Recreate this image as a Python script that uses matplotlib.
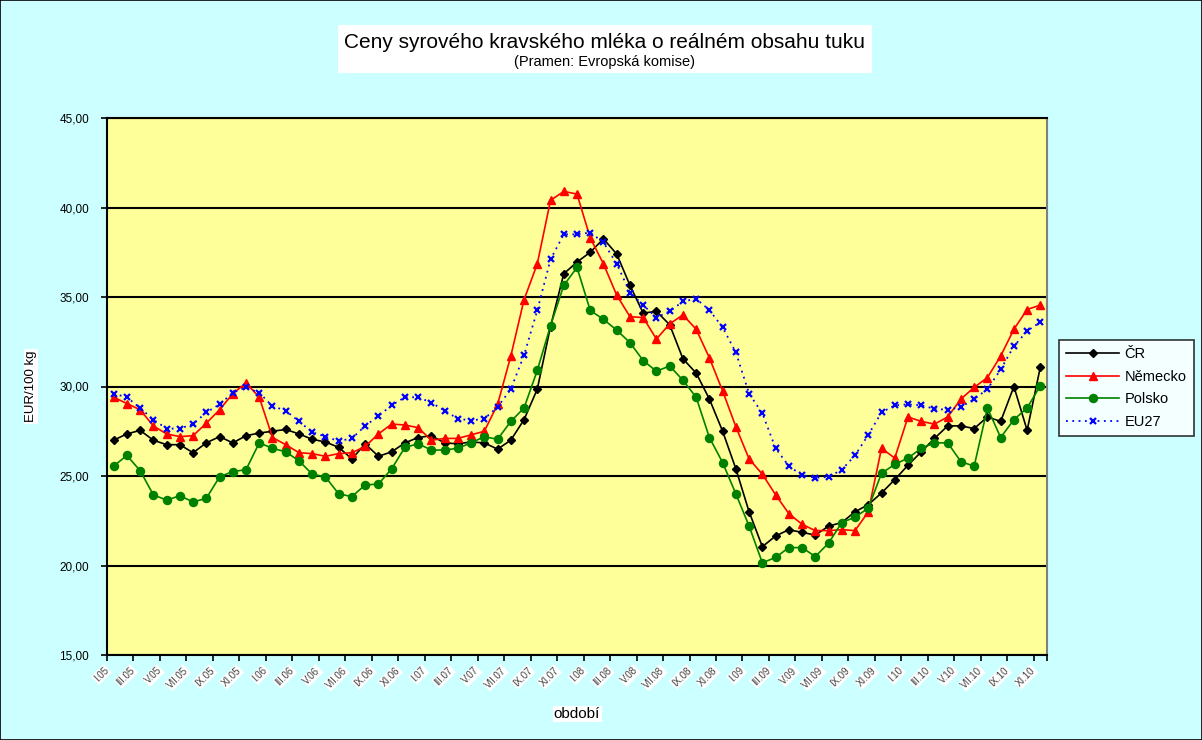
import matplotlib
matplotlib.use('Agg')
import matplotlib.pyplot as plt
from matplotlib.patches import Rectangle
import numpy as np

plt.rcParams['font.family'] = ['Liberation Sans', 'DejaVu Sans']

# ---- data (EUR/100 kg), monthly I.05 .. XI.10 ----
cr = [27.0, 27.35, 27.55, 27.0, 26.75, 26.75, 26.3, 26.85, 27.2, 26.85,
      27.25, 27.4, 27.5, 27.6, 27.35, 27.05, 26.9, 26.6, 25.95, 26.8,
      26.1, 26.35, 26.85, 27.15, 27.25, 26.85, 26.8, 26.9, 26.85, 26.5,
      27.0, 28.15, 29.85, 33.35, 36.3, 36.95, 37.5, 38.25, 37.4, 35.65,
      34.1, 34.2, 33.45, 31.55, 30.75, 29.3, 27.5, 25.4, 23.0, 21.05,
      21.65, 22.0, 21.85, 21.7, 22.2, 22.4, 23.0, 23.4, 24.05, 24.8,
      25.6, 26.35, 27.1, 27.8, 27.8, 27.65, 28.3, 28.05, 30.0, 27.55,
      31.1]
nemecko = [29.4, 29.05, 28.7, 27.8, 27.35, 27.2, 27.25, 27.95, 28.7, 29.6,
           30.2, 29.4, 27.15, 26.75, 26.3, 26.25, 26.1, 26.25, 26.3, 26.65,
           27.35, 27.9, 27.85, 27.7, 27.0, 27.1, 27.1, 27.3, 27.5, 29.0,
           31.7, 34.85, 36.85, 40.4, 40.9, 40.75, 38.3, 36.85, 35.1, 33.9,
           33.85, 32.65, 33.5, 34.0, 33.2, 31.6, 29.75, 27.75, 25.95, 25.1,
           23.95, 22.9, 22.3, 21.95, 21.95, 22.0, 21.95, 23.0, 26.55, 26.0,
           28.3, 28.05, 27.9, 28.3, 29.3, 29.95, 30.5, 31.7, 33.2, 34.3,
           34.55]
polsko = [25.55, 26.15, 25.3, 23.95, 23.65, 23.9, 23.55, 23.75, 24.95, 25.25,
          25.35, 26.85, 26.55, 26.35, 25.85, 25.1, 24.95, 24.0, 23.85, 24.5,
          24.55, 25.4, 26.6, 26.8, 26.45, 26.45, 26.55, 26.85, 27.2, 27.05,
          28.05, 28.8, 30.9, 33.4, 35.65, 36.65, 34.25, 33.75, 33.15, 32.45,
          31.45, 30.85, 31.15, 30.35, 29.4, 27.15, 25.75, 24.0, 22.2, 20.15,
          20.45, 21.0, 21.0, 20.5, 21.25, 22.4, 22.7, 23.2, 25.15, 25.65,
          26.0, 26.55, 26.85, 26.85, 25.8, 25.55, 28.8, 27.15, 28.15, 28.8,
          30.05]
eu27 = [29.6, 29.4, 28.8, 28.15, 27.65, 27.65, 27.9, 28.55, 29.0, 29.65,
        29.95, 29.65, 28.9, 28.65, 28.05, 27.45, 27.2, 26.95, 27.1, 27.8,
        28.35, 28.95, 29.4, 29.4, 29.1, 28.65, 28.2, 28.1, 28.2, 28.85,
        29.85, 31.75, 34.25, 37.1, 38.5, 38.5, 38.6, 38.05, 36.85, 35.25,
        34.55, 33.85, 34.2, 34.75, 34.9, 34.27, 33.3, 31.9, 29.6, 28.5,
        26.55, 25.55, 25.05, 24.9, 24.95, 25.35, 26.15, 27.3, 28.55, 28.95,
        29.0, 28.95, 28.75, 28.7, 28.85, 29.3, 29.85, 30.95, 32.25, 33.1,
        33.6]

tick_labels = ['I.05', 'III.05', 'V.05', 'VII.05', 'IX.05', 'XI.05',
               'I.06', 'III.06', 'V.06', 'VII.06', 'IX.06', 'XI.06',
               'I.07', 'III.07', 'V.07', 'VII.07', 'IX.07', 'XI.07',
               'I.08', 'III.08', 'V.08', 'VII.08', 'IX.08', 'XI.08',
               'I.09', 'III.09', 'V.09', 'VII.09', 'IX.09', 'XI.09',
               'I.10', 'III.10', 'V.10', 'VII.10', 'IX.10', 'XI.10']

series_names = ['ČR', 'Německo', 'Polsko', 'EU27']

# ---- figure ----
W, H = 1202, 740
fig = plt.figure(figsize=(W / 100, H / 100), dpi=100)
fig.patch.set_facecolor('#CCFFFF')
fig.patches.append(Rectangle((0, 0), 1, 1, transform=fig.transFigure,
                             fill=False, edgecolor='black', linewidth=1.2))

ax = fig.add_axes([107 / W, 1 - 655 / H, (1047 - 107) / W, (655 - 118) / H])
ax.set_facecolor('#FFFF99')

n = len(cr)
x = np.arange(n)
ax.plot(x, cr, color='black', lw=1.2, marker='D', ms=4.5, label=series_names[0], zorder=3)
ax.plot(x, nemecko, color='#FF0000', lw=1.2, marker='^', ms=6.2, label=series_names[1], zorder=3)
ax.plot(x, polsko, color='#008000', lw=1.2, marker='o', ms=5.8, label=series_names[2], zorder=3)
ax.plot(x, eu27, color='#0000FF', lw=1.3, ls=(0, (1, 2.5)), marker='x', ms=5, mew=1.6,
        label=series_names[3], zorder=3)

ax.set_xlim(-0.5, n - 0.5)
ax.set_ylim(15, 45)
yt = np.arange(15, 46, 5)
ax.set_yticks(yt)
ax.set_yticklabels([f'{v:.2f}'.replace('.', ',') for v in yt], fontsize=8.5)
ax.yaxis.grid(True, color='black', linewidth=1.5)
ax.set_axisbelow(True)

xt = np.arange(-0.5, n - 0.5, 2)
ax.set_xticks(xt)
ax.set_xticks([n - 0.5], minor=True)
ax.set_xticklabels(tick_labels, rotation=45, ha='right', va='center',
                   rotation_mode='anchor', fontsize=7, color='#444444')
for lab in ax.get_xticklabels():
    lab.set_bbox(dict(facecolor='white', edgecolor='none', pad=0.6))
ax.tick_params(axis='x', which='both', direction='out', length=4, width=1.2, pad=6)
ax.tick_params(axis='y', direction='out', length=4, width=1.2, pad=9)

for s in ['left', 'bottom', 'top']:
    ax.spines[s].set_color('black')
    ax.spines[s].set_linewidth(1.5)
ax.spines['right'].set_color('#808080')
ax.spines['right'].set_linewidth(1.5)

ax.set_xlabel('období', fontsize=11, labelpad=12,
              bbox=dict(facecolor='white', edgecolor='none', pad=1))
ax.set_ylabel('EUR/100 kg', fontsize=9.5, labelpad=16,
              bbox=dict(facecolor='white', edgecolor='none', pad=1))

# title box
fig.patches.append(Rectangle((338 / W, 1 - 73 / H), (872 - 338) / W, (73 - 25) / H,
                             transform=fig.transFigure, facecolor='white',
                             edgecolor='none', zorder=1))
fig.text(605 / W, 1 - 42 / H, 'Ceny syrového kravského mléka o reálném obsahu tuku',
         ha='center', va='center', fontsize=15, zorder=2)
fig.text(605 / W, 1 - 62 / H, '(Pramen: Evropská komise)',
         ha='center', va='center', fontsize=10.5, zorder=2)

leg = fig.legend(loc='center left', bbox_to_anchor=(1059 / W, 1 - 388 / H),
                 frameon=True, fancybox=False, edgecolor='black', facecolor='white',
                 fontsize=10.5, handlelength=3.6, borderpad=0.5, labelspacing=0.6,
                 handletextpad=0.4, borderaxespad=0)
leg.get_frame().set_linewidth(1.2)

fig.savefig('out.png', dpi=100, facecolor=fig.get_facecolor())
